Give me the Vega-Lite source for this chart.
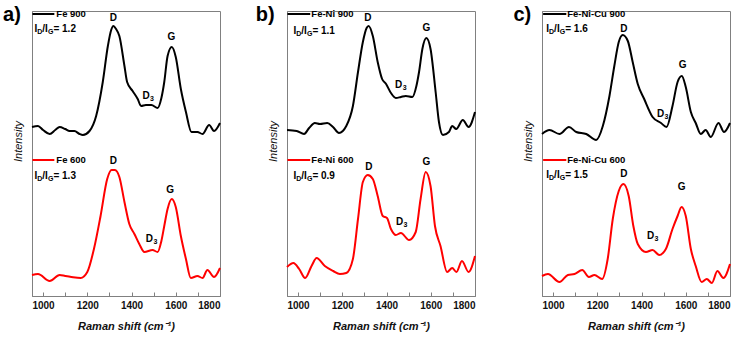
{
  "$schema": "https://vega.github.io/schema/vega-lite/v6.json",
  "padding": {"left": 2, "top": 4, "right": 0, "bottom": 0},
  "config": {
    "font": "Liberation Sans",
    "view": {"stroke": "#808080", "strokeWidth": 1},
    "axis": {"grid": false, "domainColor": "#808080", "tickColor": "#808080", "labelColor": "#111", "titleColor": "#111"}
  },
  "data": {"values": [
    {"p":"a","s":"900","x":950,"y":169},{"p":"a","s":"900","x":977,"y":170},{"p":"a","s":"900","x":1000,"y":166},{"p":"a","s":"900","x":1030,"y":162},{"p":"a","s":"900","x":1055,"y":166},{"p":"a","s":"900","x":1075,"y":169},{"p":"a","s":"900","x":1100,"y":167},{"p":"a","s":"900","x":1120,"y":165},{"p":"a","s":"900","x":1142,"y":165},{"p":"a","s":"900","x":1165,"y":162},{"p":"a","s":"900","x":1180,"y":161},{"p":"a","s":"900","x":1210,"y":165},{"p":"a","s":"900","x":1240,"y":180},{"p":"a","s":"900","x":1270,"y":214},{"p":"a","s":"900","x":1293,"y":250},{"p":"a","s":"900","x":1308,"y":266},{"p":"a","s":"900","x":1318,"y":270},{"p":"a","s":"900","x":1330,"y":267},{"p":"a","s":"900","x":1345,"y":260},{"p":"a","s":"900","x":1368,"y":230},{"p":"a","s":"900","x":1380,"y":214},{"p":"a","s":"900","x":1405,"y":205},{"p":"a","s":"900","x":1428,"y":197},{"p":"a","s":"900","x":1443,"y":190},{"p":"a","s":"900","x":1465,"y":191},{"p":"a","s":"900","x":1490,"y":191},{"p":"a","s":"900","x":1518,"y":188},{"p":"a","s":"900","x":1535,"y":198},{"p":"a","s":"900","x":1548,"y":214},{"p":"a","s":"900","x":1563,"y":240},{"p":"a","s":"900","x":1582,"y":249},{"p":"a","s":"900","x":1600,"y":239},{"p":"a","s":"900","x":1623,"y":207},{"p":"a","s":"900","x":1646,"y":184},{"p":"a","s":"900","x":1671,"y":164},{"p":"a","s":"900","x":1698,"y":164},{"p":"a","s":"900","x":1721,"y":162},{"p":"a","s":"900","x":1751,"y":171},{"p":"a","s":"900","x":1773,"y":165},{"p":"a","s":"900","x":1800,"y":173},
    {"p":"a","s":"600","x":950,"y":21},{"p":"a","s":"600","x":977,"y":22},{"p":"a","s":"600","x":1030,"y":15},{"p":"a","s":"600","x":1075,"y":21},{"p":"a","s":"600","x":1100,"y":20},{"p":"a","s":"600","x":1128,"y":19},{"p":"a","s":"600","x":1170,"y":18},{"p":"a","s":"600","x":1200,"y":24},{"p":"a","s":"600","x":1230,"y":47},{"p":"a","s":"600","x":1260,"y":80},{"p":"a","s":"600","x":1290,"y":117},{"p":"a","s":"600","x":1310,"y":126},{"p":"a","s":"600","x":1325,"y":126},{"p":"a","s":"600","x":1345,"y":119},{"p":"a","s":"600","x":1368,"y":94},{"p":"a","s":"600","x":1390,"y":72},{"p":"a","s":"600","x":1413,"y":62},{"p":"a","s":"600","x":1435,"y":52},{"p":"a","s":"600","x":1458,"y":44},{"p":"a","s":"600","x":1495,"y":46},{"p":"a","s":"600","x":1518,"y":44},{"p":"a","s":"600","x":1535,"y":55},{"p":"a","s":"600","x":1548,"y":70},{"p":"a","s":"600","x":1563,"y":87},{"p":"a","s":"600","x":1582,"y":97},{"p":"a","s":"600","x":1600,"y":89},{"p":"a","s":"600","x":1623,"y":60},{"p":"a","s":"600","x":1646,"y":37},{"p":"a","s":"600","x":1668,"y":18},{"p":"a","s":"600","x":1698,"y":20},{"p":"a","s":"600","x":1721,"y":18},{"p":"a","s":"600","x":1743,"y":26},{"p":"a","s":"600","x":1773,"y":19},{"p":"a","s":"600","x":1800,"y":28},
    {"p":"b","s":"900","x":950,"y":166},{"p":"b","s":"900","x":994,"y":165},{"p":"b","s":"900","x":1027,"y":162},{"p":"b","s":"900","x":1050,"y":168},{"p":"b","s":"900","x":1076,"y":173},{"p":"b","s":"900","x":1099,"y":172},{"p":"b","s":"900","x":1132,"y":173},{"p":"b","s":"900","x":1158,"y":169},{"p":"b","s":"900","x":1185,"y":163},{"p":"b","s":"900","x":1218,"y":170},{"p":"b","s":"900","x":1248,"y":190},{"p":"b","s":"900","x":1271,"y":224},{"p":"b","s":"900","x":1293,"y":254},{"p":"b","s":"900","x":1310,"y":268},{"p":"b","s":"900","x":1319,"y":270},{"p":"b","s":"900","x":1338,"y":260},{"p":"b","s":"900","x":1360,"y":234},{"p":"b","s":"900","x":1380,"y":217},{"p":"b","s":"900","x":1398,"y":212},{"p":"b","s":"900","x":1420,"y":203},{"p":"b","s":"900","x":1442,"y":198},{"p":"b","s":"900","x":1465,"y":199},{"p":"b","s":"900","x":1487,"y":200},{"p":"b","s":"900","x":1517,"y":199},{"p":"b","s":"900","x":1535,"y":210},{"p":"b","s":"900","x":1547,"y":224},{"p":"b","s":"900","x":1562,"y":247},{"p":"b","s":"900","x":1580,"y":258},{"p":"b","s":"900","x":1599,"y":247},{"p":"b","s":"900","x":1622,"y":204},{"p":"b","s":"900","x":1637,"y":174},{"p":"b","s":"900","x":1655,"y":161},{"p":"b","s":"900","x":1682,"y":164},{"p":"b","s":"900","x":1697,"y":170},{"p":"b","s":"900","x":1715,"y":167},{"p":"b","s":"900","x":1745,"y":176},{"p":"b","s":"900","x":1771,"y":169},{"p":"b","s":"900","x":1800,"y":184},
    {"p":"b","s":"600","x":950,"y":29},{"p":"b","s":"600","x":979,"y":33},{"p":"b","s":"600","x":1005,"y":27},{"p":"b","s":"600","x":1032,"y":18},{"p":"b","s":"600","x":1061,"y":30},{"p":"b","s":"600","x":1084,"y":38},{"p":"b","s":"600","x":1121,"y":30},{"p":"b","s":"600","x":1159,"y":25},{"p":"b","s":"600","x":1189,"y":22},{"p":"b","s":"600","x":1218,"y":23},{"p":"b","s":"600","x":1248,"y":37},{"p":"b","s":"600","x":1271,"y":77},{"p":"b","s":"600","x":1293,"y":114},{"p":"b","s":"600","x":1315,"y":121},{"p":"b","s":"600","x":1338,"y":117},{"p":"b","s":"600","x":1360,"y":100},{"p":"b","s":"600","x":1383,"y":80},{"p":"b","s":"600","x":1402,"y":78},{"p":"b","s":"600","x":1420,"y":67},{"p":"b","s":"600","x":1442,"y":61},{"p":"b","s":"600","x":1465,"y":63},{"p":"b","s":"600","x":1502,"y":56},{"p":"b","s":"600","x":1532,"y":64},{"p":"b","s":"600","x":1554,"y":97},{"p":"b","s":"600","x":1577,"y":124},{"p":"b","s":"600","x":1599,"y":110},{"p":"b","s":"600","x":1619,"y":70},{"p":"b","s":"600","x":1644,"y":50},{"p":"b","s":"600","x":1674,"y":24},{"p":"b","s":"600","x":1697,"y":28},{"p":"b","s":"600","x":1716,"y":24},{"p":"b","s":"600","x":1741,"y":35},{"p":"b","s":"600","x":1771,"y":24},{"p":"b","s":"600","x":1800,"y":40},
    {"p":"c","s":"900","x":950,"y":162},{"p":"c","s":"900","x":984,"y":166},{"p":"c","s":"900","x":1029,"y":162},{"p":"c","s":"900","x":1072,"y":169},{"p":"c","s":"900","x":1105,"y":164},{"p":"c","s":"900","x":1150,"y":162},{"p":"c","s":"900","x":1195,"y":156},{"p":"c","s":"900","x":1225,"y":170},{"p":"c","s":"900","x":1255,"y":200},{"p":"c","s":"900","x":1277,"y":230},{"p":"c","s":"900","x":1297,"y":254},{"p":"c","s":"900","x":1315,"y":261},{"p":"c","s":"900","x":1338,"y":255},{"p":"c","s":"900","x":1360,"y":234},{"p":"c","s":"900","x":1383,"y":212},{"p":"c","s":"900","x":1412,"y":197},{"p":"c","s":"900","x":1450,"y":179},{"p":"c","s":"900","x":1488,"y":173},{"p":"c","s":"900","x":1513,"y":169},{"p":"c","s":"900","x":1540,"y":190},{"p":"c","s":"900","x":1563,"y":214},{"p":"c","s":"900","x":1582,"y":220},{"p":"c","s":"900","x":1600,"y":209},{"p":"c","s":"900","x":1623,"y":184},{"p":"c","s":"900","x":1645,"y":173},{"p":"c","s":"900","x":1668,"y":162},{"p":"c","s":"900","x":1690,"y":166},{"p":"c","s":"900","x":1713,"y":159},{"p":"c","s":"900","x":1748,"y":173},{"p":"c","s":"900","x":1773,"y":164},{"p":"c","s":"900","x":1800,"y":173},
    {"p":"c","s":"600","x":950,"y":20},{"p":"c","s":"600","x":977,"y":22},{"p":"c","s":"600","x":1029,"y":14},{"p":"c","s":"600","x":1067,"y":21},{"p":"c","s":"600","x":1097,"y":22},{"p":"c","s":"600","x":1132,"y":26},{"p":"c","s":"600","x":1162,"y":19},{"p":"c","s":"600","x":1187,"y":21},{"p":"c","s":"600","x":1222,"y":17},{"p":"c","s":"600","x":1247,"y":37},{"p":"c","s":"600","x":1270,"y":77},{"p":"c","s":"600","x":1297,"y":105},{"p":"c","s":"600","x":1318,"y":112},{"p":"c","s":"600","x":1342,"y":100},{"p":"c","s":"600","x":1363,"y":70},{"p":"c","s":"600","x":1383,"y":52},{"p":"c","s":"600","x":1420,"y":44},{"p":"c","s":"600","x":1450,"y":46},{"p":"c","s":"600","x":1480,"y":41},{"p":"c","s":"600","x":1510,"y":47},{"p":"c","s":"600","x":1540,"y":67},{"p":"c","s":"600","x":1563,"y":80},{"p":"c","s":"600","x":1581,"y":89},{"p":"c","s":"600","x":1600,"y":80},{"p":"c","s":"600","x":1623,"y":47},{"p":"c","s":"600","x":1645,"y":30},{"p":"c","s":"600","x":1672,"y":14},{"p":"c","s":"600","x":1695,"y":17},{"p":"c","s":"600","x":1718,"y":13},{"p":"c","s":"600","x":1743,"y":25},{"p":"c","s":"600","x":1770,"y":18},{"p":"c","s":"600","x":1800,"y":32},
    {"p":"a","k":"leg","s":"900","x":952,"x2":1051,"y":282},{"p":"a","k":"leg","s":"600","x":952,"x2":1051,"y":136},
    {"p":"b","k":"leg","s":"900","x":952,"x2":1055,"y":282},{"p":"b","k":"leg","s":"600","x":952,"x2":1055,"y":136},
    {"p":"c","k":"leg","s":"900","x":955,"x2":1060,"y":282},{"p":"c","k":"leg","s":"600","x":955,"x2":1060,"y":136},
    {"p":"a","k":"legt","x":1060,"y":282,"t":"Fe 900"},{"p":"a","k":"legt","x":1060,"y":136,"t":"Fe 600"},
    {"p":"b","k":"legt","x":1060,"y":282,"t":"Fe-Ni 900"},{"p":"b","k":"legt","x":1060,"y":136,"t":"Fe-Ni 600"},
    {"p":"c","k":"legt","x":1064,"y":282,"t":"Fe-Ni-Cu 900"},{"p":"c","k":"legt","x":1064,"y":136,"t":"Fe-Ni-Cu 600"},
    {"p":"a","k":"ratio","x":961,"y":267,"t":"= 1.2"},{"p":"a","k":"ratio","x":961,"y":120,"t":"= 1.3"},
    {"p":"b","k":"ratio","x":979,"y":265,"t":"= 1.1"},{"p":"b","k":"ratio","x":979,"y":120,"t":"= 0.9"},
    {"p":"c","k":"ratio","x":969,"y":267,"t":"= 1.6"},{"p":"c","k":"ratio","x":969,"y":121,"t":"= 1.5"},
    {"p":"a","k":"peak","x":1318,"y":278,"t":"D"},{"p":"a","k":"peak","x":1580,"y":259,"t":"G"},{"p":"a","k":"d3","x":1475,"y":200},
    {"p":"a","k":"peak","x":1318,"y":135,"t":"D"},{"p":"a","k":"peak","x":1575,"y":106,"t":"G"},{"p":"a","k":"d3","x":1490,"y":57},
    {"p":"b","k":"peak","x":1316,"y":278,"t":"D"},{"p":"b","k":"peak","x":1580,"y":268,"t":"G"},{"p":"b","k":"d3","x":1464,"y":211},
    {"p":"b","k":"peak","x":1320,"y":129,"t":"D"},{"p":"b","k":"peak","x":1580,"y":134,"t":"G"},{"p":"b","k":"d3","x":1468,"y":74},
    {"p":"c","k":"peak","x":1320,"y":267,"t":"D"},{"p":"c","k":"peak","x":1586,"y":231,"t":"G"},{"p":"c","k":"d3","x":1495,"y":182},
    {"p":"c","k":"peak","x":1320,"y":122,"t":"D"},{"p":"c","k":"peak","x":1581,"y":109,"t":"G"},{"p":"c","k":"d3","x":1450,"y":60},
    {"p":"a","k":"panel","x":819,"y":275,"t":"a)"},{"p":"b","k":"panel","x":809,"y":275,"t":"b)"},{"p":"c","k":"panel","x":821,"y":275,"t":"c)"}
  ]},
  "facet": {"column": {"field": "p", "type": "nominal", "header": {"title": null, "labels": false}}},
  "spacing": 30,
  "resolve": {"axis": {"x": "independent", "y": "independent"}},
  "spec": {
    "width": 188,
    "height": 285,
    "encoding": {
      "x": {"field": "x", "type": "quantitative", "scale": {"domain": [950, 1800], "nice": false, "zero": false},
        "axis": {"title": "Raman shift (cm⁻¹)", "values": [1000, 1100, 1200, 1300, 1400, 1500, 1600, 1700, 1800],
          "labelExpr": "datum.value % 200 == 0 ? '' + datum.value : ''", "tickSize": -4, "labelPadding": 8,
          "labelFontSize": 10, "labelFontWeight": "bold", "titleFontSize": 11, "titleFontWeight": "bold",
          "titleFontStyle": "italic", "titlePadding": 10}},
      "y": {"field": "y", "type": "quantitative", "scale": {"domain": [0, 285], "nice": false},
        "axis": {"title": "Intensity", "labels": false, "ticks": false, "titleFontStyle": "italic",
          "titleFontWeight": "normal", "titleFontSize": 11, "titlePadding": 9, "titleY": 130}}
    },
    "layer": [
      {"transform": [{"filter": "datum.k == null"}],
       "mark": {"type": "line", "strokeWidth": 2, "interpolate": "monotone"},
       "encoding": {"color": {"field": "s", "type": "nominal", "scale": {"domain": ["900", "600"], "range": ["#000000", "#ff0000"]}, "legend": null}}},
      {"transform": [{"filter": "datum.k == 'leg'"}],
       "mark": {"type": "rule", "strokeWidth": 2},
       "encoding": {"x2": {"field": "x2"}, "color": {"field": "s", "type": "nominal", "legend": null}}},
      {"transform": [{"filter": "datum.k == 'legt'"}],
       "mark": {"type": "text", "align": "left", "baseline": "middle", "fontSize": 9.5, "fontWeight": "bold", "color": "#000"},
       "encoding": {"text": {"field": "t"}}},
      {"transform": [{"filter": "datum.k == 'peak'"}],
       "mark": {"type": "text", "align": "center", "baseline": "middle", "fontSize": 10, "fontWeight": "bold", "color": "#000"},
       "encoding": {"text": {"field": "t"}}},
      {"transform": [{"filter": "datum.k == 'd3'"}],
       "mark": {"type": "text", "align": "center", "baseline": "middle", "fontSize": 10, "fontWeight": "bold", "color": "#000", "text": "D", "dx": -2}},
      {"transform": [{"filter": "datum.k == 'd3'"}],
       "mark": {"type": "text", "align": "left", "baseline": "middle", "fontSize": 7, "fontWeight": "bold", "color": "#000", "text": "3", "dx": 2, "dy": 3}},
      {"transform": [{"filter": "datum.k == 'ratio'"}],
       "mark": {"type": "text", "align": "left", "baseline": "middle", "fontSize": 10, "fontWeight": "bold", "color": "#000", "text": "I"}},
      {"transform": [{"filter": "datum.k == 'ratio'"}],
       "mark": {"type": "text", "align": "left", "baseline": "middle", "fontSize": 7, "fontWeight": "bold", "color": "#000", "text": "D", "dx": 2.8, "dy": 3}},
      {"transform": [{"filter": "datum.k == 'ratio'"}],
       "mark": {"type": "text", "align": "left", "baseline": "middle", "fontSize": 10, "fontWeight": "bold", "color": "#000", "text": "/I", "dx": 7.9}},
      {"transform": [{"filter": "datum.k == 'ratio'"}],
       "mark": {"type": "text", "align": "left", "baseline": "middle", "fontSize": 7, "fontWeight": "bold", "color": "#000", "text": "G", "dx": 13.5, "dy": 3}},
      {"transform": [{"filter": "datum.k == 'ratio'"}],
       "mark": {"type": "text", "align": "left", "baseline": "middle", "fontSize": 10, "fontWeight": "bold", "color": "#000", "dx": 19},
       "encoding": {"text": {"field": "t"}}},
      {"transform": [{"filter": "datum.k == 'panel'"}],
       "mark": {"type": "text", "align": "left", "baseline": "alphabetic", "fontSize": 20, "fontWeight": "bold", "color": "#000"},
       "encoding": {"text": {"field": "t"}}}
    ]
  }
}
